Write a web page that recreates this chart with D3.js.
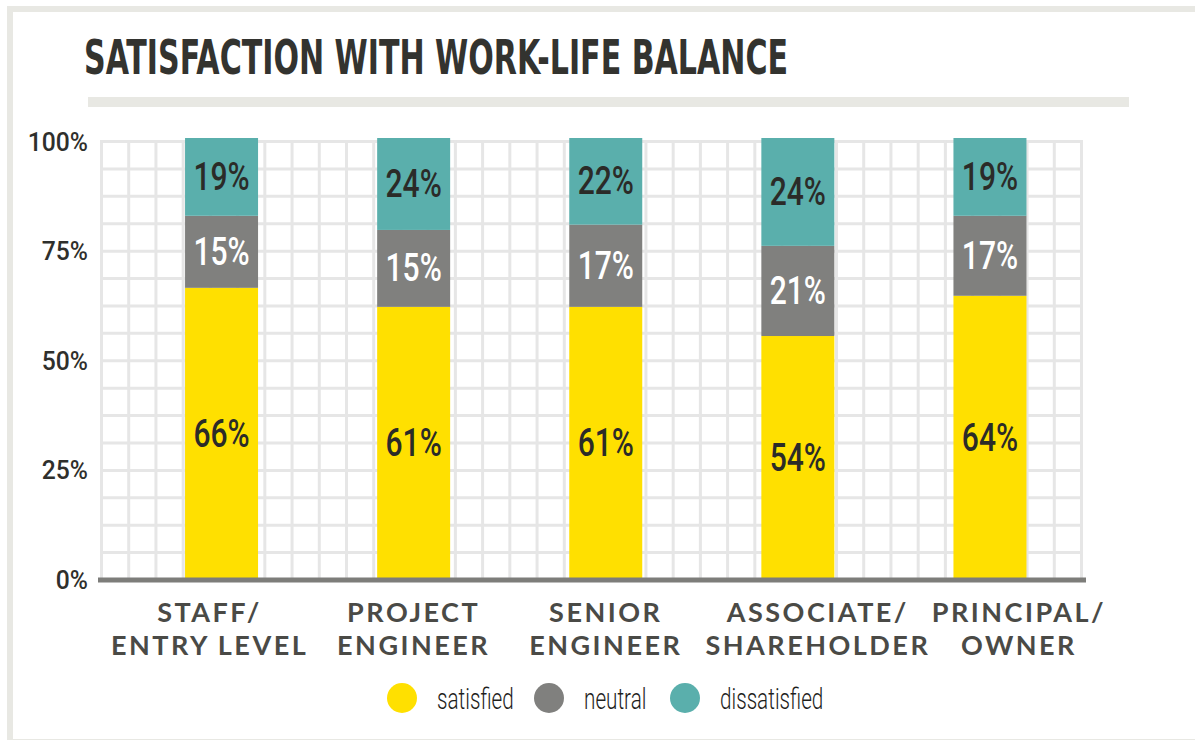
<!DOCTYPE html>
<html>
<head>
<meta charset="utf-8">
<script src="https://cdn.jsdelivr.net/npm/d3@7"></script>
<style>
  body { margin: 0; background: #fff; }
  svg { display: block; }
</style>
</head>
<body>
<div class="viz"></div>
<script>
// data
const categories = ["STAFF/\nENTRY LEVEL", "PROJECT\nENGINEER", "SENIOR\nENGINEER", "ASSOCIATE/\nSHAREHOLDER", "PRINCIPAL/\nOWNER"];
const seriesNames = ["satisfied", "neutral", "dissatisfied"];
// printed percentages
const satisfied = [66, 61, 61, 54, 64];
const neutral = [15, 15, 17, 21, 17];
const dissatisfied = [19, 24, 22, 24, 19];
// segment lengths as actually drawn in the original (share of bar, %)
const satisfiedDrawn = [66.1, 61.8, 61.8, 55.2, 64.3];
const neutralDrawn = [16.3, 17.4, 18.6, 20.4, 18.1];
const dissatisfiedDrawn = [17.6, 20.8, 19.6, 24.4, 17.6];
const yTicks = [0, 25, 50, 75, 100];

const colors = { satisfied: "#ffe000", neutral: "#80807e", dissatisfied: "#5aafac" };
const labelColors = { satisfied: "#2b2b28", neutral: "#ffffff", dissatisfied: "#2b2b28" };
// category labels sit a bit off the bar centres in the original
const labelNudge = [-12, 0, 0, 20, 29];

const W = 1195, H = 740;
const condensed = "Roboto, 'DejaVu Sans', sans-serif";

var svg = d3.select(".viz")
  .append("svg")
  .attr("width", W)
  .attr("height", H);

/* frame + title */
svg.append("rect")
  .attr("x", 10).attr("y", 9)
  .attr("width", 1200).attr("height", 733)
  .attr("fill", "none")
  .attr("stroke", "#e8e8e3")
  .attr("stroke-width", 6);

svg.append("text")
  .attr("x", 84).attr("y", 74)
  .attr("font-family", "'DejaVu Sans Condensed', 'DejaVu Sans', sans-serif")
  .attr("font-size", 48)
  .attr("font-weight", "bold")
  .attr("fill", "#33332f")
  .attr("textLength", 704)
  .attr("lengthAdjust", "spacingAndGlyphs")
  .text("SATISFACTION WITH WORK-LIFE BALANCE");

svg.append("rect")
  .attr("x", 88).attr("y", 97)
  .attr("width", 1041).attr("height", 10)
  .attr("fill", "#e8e8e3");

/* scales */
var table = categories.map((c, i) => ({
  category: c,
  satisfied: satisfiedDrawn[i],
  neutral: neutralDrawn[i],
  dissatisfied: dissatisfiedDrawn[i],
  printed: { satisfied: satisfied[i], neutral: neutral[i], dissatisfied: dissatisfied[i] }
}));

var stacked = d3.stack()
  .keys(seriesNames)
  .offset(d3.stackOffsetExpand)(table);

var xscale = d3.scaleBand()
  .domain(categories)
  .range([125.5, 1086])
  .paddingInner(0.62)
  .paddingOuter(0.31);

var ygrid = d3.scaleLinear().domain([0, 100]).range([580, 141.5]);
var ybar = d3.scaleLinear().domain([0, 1]).range([580, 138]);
var xgrid = d3.scaleLinear().domain([0, 36]).range([101.5, 1081.5]);

/* grid */
var grid = svg.append("g").attr("stroke", "#e6e6e6").attr("stroke-width", 3);
grid.selectAll("line.h")
  .data(d3.range(0, 100.01, 6.25))
  .enter().append("line")
  .attr("x1", xgrid(0) - 1.5).attr("x2", xgrid(36) + 1.5)
  .attr("y1", (d) => ygrid(d)).attr("y2", (d) => ygrid(d));
grid.selectAll("line.v")
  .data(d3.range(0, 37))
  .enter().append("line")
  .attr("x1", (d) => xgrid(d)).attr("x2", (d) => xgrid(d))
  .attr("y1", ygrid(100) - 1.5).attr("y2", ygrid(0));

/* y axis labels */
svg.append("g")
  .selectAll("text")
  .data(yTicks)
  .enter().append("text")
  .attr("transform", (d) => "translate(88," + (ygrid(d) + 9) + ") scale(0.95,1)")
  .attr("text-anchor", "end")
  .attr("font-family", condensed)
  .attr("font-weight", 500)
  .attr("font-size", 26)
  .attr("fill", "#2f2f2c")
  .text((d) => d + "%");

/* bars */
var layers = svg.append("g")
  .selectAll("g")
  .data(stacked)
  .enter().append("g")
  .attr("fill", (d) => colors[d.key]);

layers.selectAll("rect")
  .data((d) => d)
  .enter().append("rect")
  .attr("x", (d) => xscale(d.data.category))
  .attr("y", (d) => ybar(d[1]))
  .attr("width", xscale.bandwidth())
  .attr("height", (d) => ybar(d[0]) - ybar(d[1]));

layers.selectAll("text")
  .data((d) => d.map((p) => ({ key: d.key, p: p })))
  .enter().append("text")
  .attr("transform", (d) => "translate(" + (xscale(d.p.data.category) + xscale.bandwidth() / 2) + "," +
        ((ybar(d.p[0]) + ybar(d.p[1])) / 2 + 13) + ") scale(0.77,1)")
  .attr("text-anchor", "middle")
  .attr("font-family", condensed)
  .attr("font-weight", 500)
  .attr("font-size", 39)
  .attr("fill", (d) => labelColors[d.key])
  .text((d) => d.p.data.printed[d.key] + "%");

/* baseline */
svg.append("line")
  .attr("x1", 98).attr("x2", 1086)
  .attr("y1", ygrid(0)).attr("y2", ygrid(0))
  .attr("stroke", "#7d7d7a")
  .attr("stroke-width", 5);

/* category labels */
var cats = svg.append("g")
  .selectAll("text")
  .data(categories)
  .enter().append("text")
  .attr("text-anchor", "middle")
  .attr("font-family", "Lato, 'Open Sans', sans-serif")
  .attr("font-weight", 700)
  .attr("font-size", 27)
  .attr("letter-spacing", 2.5)
  .attr("fill", "#4a4a46")
  .attr("transform", (d, i) => "translate(" + (xscale(d) + xscale.bandwidth() / 2 + labelNudge[i]) + ",622)");

cats.selectAll("tspan")
  .data((d) => d.split("\n"))
  .enter().append("tspan")
  .attr("x", 0)
  .attr("y", (d, i) => i * 33)
  .text((d) => d);

/* legend */
var legendX = [402, 549, 685];
var legend = svg.append("g")
  .selectAll("g")
  .data(seriesNames)
  .enter().append("g")
  .attr("transform", (d, i) => "translate(" + legendX[i] + ",698)");

legend.append("circle")
  .attr("r", 15)
  .attr("fill", (d) => colors[d]);

legend.append("text")
  .attr("transform", "translate(35,11) scale(0.69,1)")
  .attr("font-family", condensed)
  .attr("font-weight", 300)
  .attr("font-size", 30)
  .attr("fill", "#1e1e1c")
  .text((d) => d);
</script>
</body>
</html>
